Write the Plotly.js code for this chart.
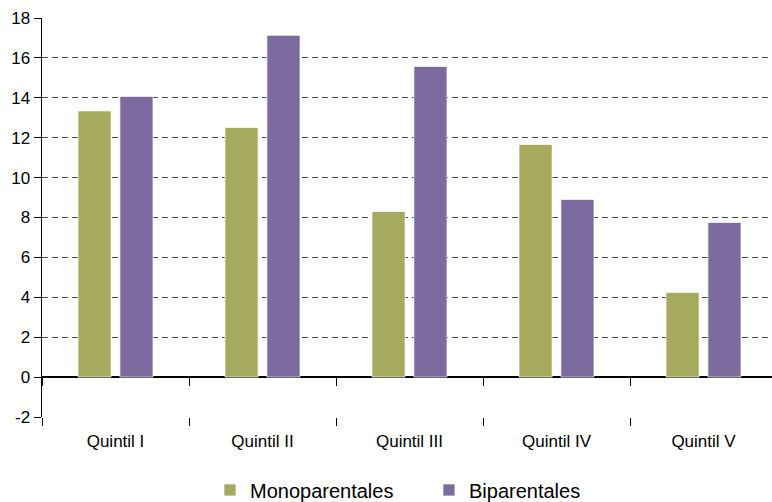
<!DOCTYPE html>
<html>
<head>
<meta charset="utf-8">
<script src="https://cdn.plot.ly/plotly-3.0.1.min.js"></script>
<style>html,body{margin:0;padding:0;background:#fff;}#chart{width:772px;height:502px;}</style>
</head>
<body>
<div id="chart"></div>
<script>
var categories = ["Quintil I", "Quintil II", "Quintil III", "Quintil IV", "Quintil V"];
var monoparentales = [13.34, 12.51, 8.30, 11.66, 4.24];
var biparentales = [14.07, 17.13, 15.57, 8.90, 7.75];
var seriesNames = ["Monoparentales", "Biparentales"];
var yTicks = [-2, 0, 2, 4, 6, 8, 10, 12, 14, 16, 18];
var yTickText = ["-2", "0", "2", "4", "6", "8", "10", "12", "14", "16", "18"];

var greenColor = "#a6aa5e";
var purpleColor = "#7d6a9e";
var font = "Liberation Sans, Arial, sans-serif";

var traces = [
  {
    type: "bar", name: seriesNames[0], x: categories, y: monoparentales,
    marker: {color: greenColor, line: {color: "rgba(255,255,255,0.7)", width: 1}},
    hoverinfo: "x+y"
  },
  {
    type: "bar", name: seriesNames[1], x: categories, y: biparentales,
    marker: {color: purpleColor, line: {color: "rgba(255,255,255,0.7)", width: 1}},
    hoverinfo: "x+y"
  },
  {
    type: "bar", x: categories, y: categories.map(function(){return null;}),
    xaxis: "x2", yaxis: "y", showlegend: false, hoverinfo: "skip"
  }
];

var xr = [-0.5, 4.466];
var layout = {
  width: 772, height: 502,
  margin: {l: 42, r: 0, t: 18, b: 85},
  paper_bgcolor: "#fff", plot_bgcolor: "#fff",
  barmode: "group", bargap: 0.43, bargroupgap: 0.21,
  font: {family: font, color: "#000"},
  xaxis: {
    type: "category", range: xr, tickson: "boundaries",
    ticks: "outside", ticklen: 8, tickcolor: "#000", tickwidth: 1,
    ticklabelstandoff: 12,
    showline: false, showgrid: false, zeroline: false, automargin: false,
    tickfont: {size: 17, family: font, color: "#000"},
    fixedrange: true
  },
  xaxis2: {
    type: "category", range: xr, overlaying: "x", anchor: "free", position: 0.1,
    tickson: "boundaries", ticks: "outside", ticklen: 8, tickcolor: "#000", tickwidth: 1,
    showticklabels: false, showline: false, showgrid: false, zeroline: false,
    side: "bottom", fixedrange: true, automargin: false
  },
  yaxis: {
    range: [-2, 18], tickmode: "array", tickvals: yTicks, ticktext: yTickText,
    ticks: "outside", ticklen: 7, tickcolor: "#000", tickwidth: 1,
    showline: true, linecolor: "#000", linewidth: 1.5,
    showgrid: true, gridcolor: "#4a4a4a", gridwidth: 1, griddash: "6px,4px",
    zeroline: true, zerolinecolor: "#000", zerolinewidth: 1.5,
    tickfont: {size: 17, family: font, color: "#000"},
    automargin: false, fixedrange: true
  },
  legend: {
    orientation: "h", x: 0.272, xanchor: "left", xref: "container",
    y: 0.024, yanchor: "middle", yref: "container",
    entrywidth: 174,
    font: {size: 20, family: font, color: "#000"},
    traceorder: "normal"
  },
  showlegend: true
};

Plotly.newPlot("chart", traces, layout, {displayModeBar: false, staticPlot: true});
</script>
</body>
</html>
